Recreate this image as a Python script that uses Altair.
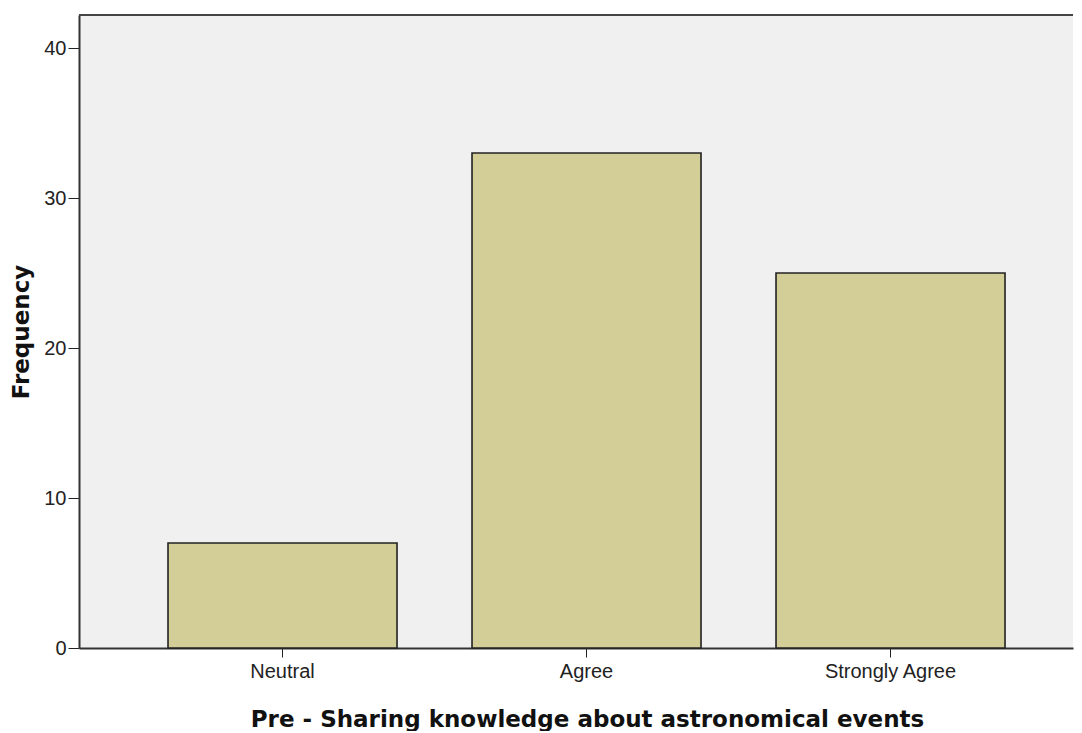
import altair as alt
import pandas as pd

categories = ["Neutral", "Agree", "Strongly Agree"]
frequencies = [7, 33, 25]
y_ticks = [0, 10, 20, 30, 40]

df = pd.DataFrame({"category": categories, "frequency": frequencies})

W = 994

x_enc = alt.X(
    "category:N",
    sort=categories,
    title="Pre - Sharing knowledge about astronomical events",
    scale=alt.Scale(paddingInner=0.2467, paddingOuter=0.2582, align=0.567),
    axis=alt.Axis(
        labelAngle=0,
        labelFont="Liberation Sans",
        labelFontSize=20,
        labelColor="#222222",
        labelPadding=4,
        tickSize=9,
        tickColor="#222222",
        domainColor="#333333",
        domainWidth=2,
        titleFont="DejaVu Sans",
        titleFontWeight="bold",
        titleFontSize=23,
        titleColor="#111111",
        titlePadding=27,
        titleX=508,
        titleAlign="center",
    ),
)

y_enc = alt.Y(
    "frequency:Q",
    title="Frequency",
    scale=alt.Scale(domain=[0, 42.2], nice=False),
    axis=alt.Axis(
        values=y_ticks,
        grid=False,
        labelFont="Liberation Sans",
        labelFontSize=20,
        labelColor="#222222",
        labelPadding=2,
        tickSize=11,
        tickColor="#222222",
        domainColor="#333333",
        domainWidth=2,
        titleFont="DejaVu Sans",
        titleFontWeight="bold",
        titleFontSize=23,
        titleColor="#111111",
        titlePadding=10,
    ),
)

bars = alt.Chart(df).mark_bar(
    color="#d3cd98", stroke="#222222", strokeWidth=1.6
).encode(x=x_enc, y=y_enc)

top_line = alt.Chart(df).mark_rule(color="#444444", strokeWidth=2).encode(
    y=alt.value(0), x=alt.value(0), x2=alt.value(W)
)

chart = (
    alt.layer(bars, top_line)
    .properties(width=W, height=633, padding={"left": 2, "top": 6, "right": 0, "bottom": 0})
    .configure_view(fill="#f0f0f0", stroke=None)
)

chart.save("out.html", embed_options={"renderer": "svg", "actions": False})
